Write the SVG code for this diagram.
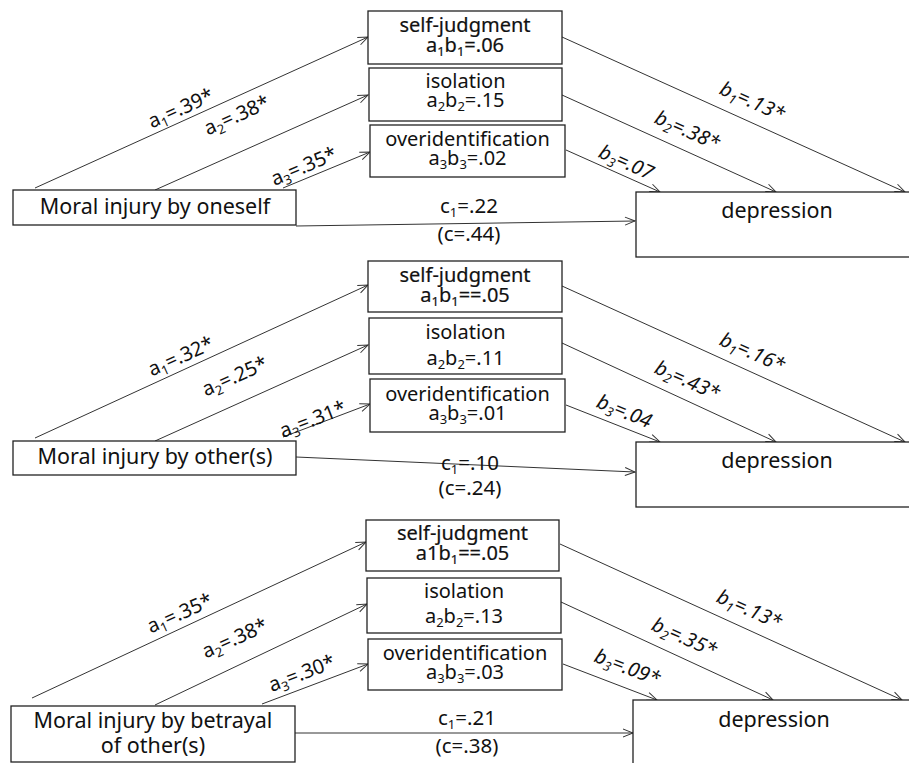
<svg xmlns="http://www.w3.org/2000/svg" width="909" height="763" viewBox="0 0 909 763">
<style>
  .box { fill: #fff; stroke: #222; stroke-width: 1.3; }
  .ln { fill: none; stroke: #333; stroke-width: 1; marker-end: url(#arr); }
  text { font-family: "Noto Sans", "Open Sans", sans-serif; font-size: 20px; fill: #111; }
  .mid { text-anchor: middle; }
  .big { font-size: 21.5px; }
  .lab { font-size: 20px; }
  .clab { font-size: 20.5px; }
  .it { font-style: italic; }
  .sub { font-size: 13px; }
  .bd { stroke: #111; stroke-width: 0.2; }
</style>
<defs>
  <marker id="arr" markerUnits="userSpaceOnUse" markerWidth="12" markerHeight="10" refX="11" refY="5" orient="auto">
    <path d="M1,1 L11,5 L1,9" fill="none" stroke="#333" stroke-width="1"/>
  </marker>
</defs>
<rect width="909" height="763" fill="#fff"/>

<g id="connectors">
  <!-- panel 1 -->
  <line class="ln" x1="35" y1="188" x2="368" y2="37"/>
  <line class="ln" x1="155" y1="190" x2="368" y2="95"/>
  <line class="ln" x1="283" y1="188" x2="370" y2="152"/>
  <line class="ln" x1="296" y1="226" x2="635" y2="221"/>
  <line class="ln" x1="562" y1="37" x2="905" y2="192"/>
  <line class="ln" x1="562" y1="95" x2="776" y2="192"/>
  <line class="ln" x1="566" y1="150" x2="660" y2="192"/>
  <!-- panel 2 -->
  <line class="ln" x1="35" y1="438" x2="368" y2="285"/>
  <line class="ln" x1="155" y1="441" x2="368" y2="345"/>
  <line class="ln" x1="283" y1="437" x2="370" y2="404"/>
  <line class="ln" x1="296" y1="457" x2="635" y2="472"/>
  <line class="ln" x1="562" y1="286" x2="905" y2="442"/>
  <line class="ln" x1="562" y1="343" x2="776" y2="442"/>
  <line class="ln" x1="566" y1="405" x2="660" y2="442"/>
  <!-- panel 3 -->
  <line class="ln" x1="32" y1="698" x2="366" y2="542"/>
  <line class="ln" x1="155" y1="705" x2="367" y2="604"/>
  <line class="ln" x1="262" y1="704" x2="368" y2="664"/>
  <line class="ln" x1="295" y1="733" x2="633" y2="733"/>
  <line class="ln" x1="560" y1="544" x2="902" y2="700"/>
  <line class="ln" x1="561" y1="602" x2="773" y2="700"/>
  <line class="ln" x1="563" y1="664" x2="657" y2="700"/>

  <!-- labels panel 1 -->
  <text class="mid lab" transform="translate(181,109) rotate(-24)" dy="6">a<tspan class="sub" dy="4">1</tspan><tspan dy="-4">=.39*</tspan></text>
  <text class="mid lab" transform="translate(237,116) rotate(-24)" dy="6">a<tspan class="sub" dy="4">2</tspan><tspan dy="-4">=.38*</tspan></text>
  <text class="mid lab" transform="translate(304,167) rotate(-23)" dy="6">a<tspan class="sub" dy="4">3</tspan><tspan dy="-4">=.35*</tspan></text>
  <text class="mid lab it" transform="translate(752,102) rotate(24)" dy="6">b<tspan class="sub" dy="4">1</tspan><tspan dy="-4">=.13*</tspan></text>
  <text class="mid lab it" transform="translate(687,131) rotate(24)" dy="6">b<tspan class="sub" dy="4">2</tspan><tspan dy="-4">=.38*</tspan></text>
  <text class="mid lab it" transform="translate(626,163) rotate(24)" dy="6">b<tspan class="sub" dy="4">3</tspan><tspan dy="-4">=.07</tspan></text>
  <text class="mid clab" x="469" y="213">c<tspan class="sub" dy="4">1</tspan><tspan dy="-4">=.22</tspan></text>
  <text class="mid clab" x="469" y="241">(c=.44)</text>

  <!-- labels panel 2 -->
  <text class="mid lab" transform="translate(181,357) rotate(-24)" dy="6">a<tspan class="sub" dy="4">1</tspan><tspan dy="-4">=.32*</tspan></text>
  <text class="mid lab" transform="translate(235,377) rotate(-24)" dy="6">a<tspan class="sub" dy="4">2</tspan><tspan dy="-4">=.25*</tspan></text>
  <text class="mid lab" transform="translate(313,420) rotate(-21)" dy="6">a<tspan class="sub" dy="4">3</tspan><tspan dy="-4">=.31*</tspan></text>
  <text class="mid lab it" transform="translate(752,353) rotate(24)" dy="6">b<tspan class="sub" dy="4">1</tspan><tspan dy="-4">=.16*</tspan></text>
  <text class="mid lab it" transform="translate(687,381) rotate(24)" dy="6">b<tspan class="sub" dy="4">2</tspan><tspan dy="-4">=.43*</tspan></text>
  <text class="mid lab it" transform="translate(624,412) rotate(22)" dy="6">b<tspan class="sub" dy="4">3</tspan><tspan dy="-4">=.04</tspan></text>
  <text class="mid clab" x="470" y="470">c<tspan class="sub" dy="4">1</tspan><tspan dy="-4">=.10</tspan></text>
  <text class="mid clab" x="470" y="495">(c=.24)</text>

  <!-- labels panel 3 -->
  <text class="mid lab" transform="translate(180,614) rotate(-24)" dy="6">a<tspan class="sub" dy="4">1</tspan><tspan dy="-4">=.35*</tspan></text>
  <text class="mid lab" transform="translate(235,639) rotate(-24)" dy="6">a<tspan class="sub" dy="4">2</tspan><tspan dy="-4">=.38*</tspan></text>
  <text class="mid lab" transform="translate(302,674) rotate(-21)" dy="6">a<tspan class="sub" dy="4">3</tspan><tspan dy="-4">=.30*</tspan></text>
  <text class="mid lab it" transform="translate(749,610) rotate(24)" dy="6">b<tspan class="sub" dy="4">1</tspan><tspan dy="-4">=.13*</tspan></text>
  <text class="mid lab it" transform="translate(684,638) rotate(24)" dy="6">b<tspan class="sub" dy="4">2</tspan><tspan dy="-4">=.35*</tspan></text>
  <text class="mid lab it" transform="translate(627,668) rotate(21)" dy="6">b<tspan class="sub" dy="4">3</tspan><tspan dy="-4">=.09*</tspan></text>
  <text class="mid clab" x="467" y="725">c<tspan class="sub" dy="4">1</tspan><tspan dy="-4">=.21</tspan></text>
  <text class="mid clab" x="467" y="753">(c=.38)</text>
</g>

<!-- panel 1 nodes -->
<g id="p1-self-judgment">
  <rect class="box" x="368" y="11" width="194" height="53"/>
  <text class="mid bd" x="465" y="32">self-judgment</text>
  <text class="mid bd" x="465" y="52">a<tspan class="sub" dy="4">1</tspan><tspan dy="-4">b</tspan><tspan class="sub" dy="4">1</tspan><tspan dy="-4">=.06</tspan></text>
</g>
<g id="p1-isolation">
  <rect class="box" x="369" y="68" width="193" height="53"/>
  <text class="mid" x="465.5" y="88">isolation</text>
  <text class="mid" x="465.5" y="107">a<tspan class="sub" dy="4">2</tspan><tspan dy="-4">b</tspan><tspan class="sub" dy="4">2</tspan><tspan dy="-4">=.15</tspan></text>
</g>
<g id="p1-overidentification">
  <rect class="box" x="370" y="125" width="195" height="52"/>
  <text class="mid" x="467.5" y="146">overidentification</text>
  <text class="mid" x="467.5" y="165">a<tspan class="sub" dy="4">3</tspan><tspan dy="-4">b</tspan><tspan class="sub" dy="4">3</tspan><tspan dy="-4">=.02</tspan></text>
</g>
<g id="p1-moral-injury">
  <rect class="box" x="13" y="190" width="283" height="35"/>
  <text class="mid big" x="155" y="214">Moral injury by oneself</text>
</g>
<g id="p1-depression">
  <rect class="box" x="636" y="192" width="282" height="65"/>
  <text class="mid big" x="777" y="218">depression</text>
</g>

<!-- panel 2 nodes -->
<g id="p2-self-judgment">
  <rect class="box" x="368" y="261" width="194" height="51"/>
  <text class="mid bd" x="465" y="282">self-judgment</text>
  <text class="mid bd" x="465" y="302">a<tspan class="sub" dy="4">1</tspan><tspan dy="-4">b</tspan><tspan class="sub" dy="4">1</tspan><tspan dy="-4">==.05</tspan></text>
</g>
<g id="p2-isolation">
  <rect class="box" x="369" y="318" width="193" height="56"/>
  <text class="mid" x="465.5" y="339">isolation</text>
  <text class="mid" x="465.5" y="365">a<tspan class="sub" dy="4">2</tspan><tspan dy="-4">b</tspan><tspan class="sub" dy="4">2</tspan><tspan dy="-4">=.11</tspan></text>
</g>
<g id="p2-overidentification">
  <rect class="box" x="370" y="379" width="195" height="53"/>
  <text class="mid" x="467.5" y="401">overidentification</text>
  <text class="mid" x="467.5" y="420">a<tspan class="sub" dy="4">3</tspan><tspan dy="-4">b</tspan><tspan class="sub" dy="4">3</tspan><tspan dy="-4">=.01</tspan></text>
</g>
<g id="p2-moral-injury">
  <rect class="box" x="13" y="441" width="283" height="34"/>
  <text class="mid big" x="155" y="464">Moral injury by other(s)</text>
</g>
<g id="p2-depression">
  <rect class="box" x="636" y="442" width="282" height="65"/>
  <text class="mid big" x="777" y="468">depression</text>
</g>

<!-- panel 3 nodes -->
<g id="p3-self-judgment">
  <rect class="box" x="366" y="520" width="193" height="51"/>
  <text class="mid bd" x="462.5" y="540">self-judgment</text>
  <text class="mid bd" x="462.5" y="560">a1b<tspan class="sub" dy="4">1</tspan><tspan dy="-4">==.05</tspan></text>
</g>
<g id="p3-isolation">
  <rect class="box" x="367" y="578" width="194" height="55"/>
  <text class="mid" x="464" y="598">isolation</text>
  <text class="mid" x="464" y="623">a<tspan class="sub" dy="4">2</tspan><tspan dy="-4">b</tspan><tspan class="sub" dy="4">2</tspan><tspan dy="-4">=.13</tspan></text>
</g>
<g id="p3-overidentification">
  <rect class="box" x="368" y="639" width="194" height="51"/>
  <text class="mid" x="465" y="660">overidentification</text>
  <text class="mid" x="465" y="679">a<tspan class="sub" dy="4">3</tspan><tspan dy="-4">b</tspan><tspan class="sub" dy="4">3</tspan><tspan dy="-4">=.03</tspan></text>
</g>
<g id="p3-moral-injury">
  <rect class="box" x="11" y="706" width="284" height="56"/>
  <text class="mid big" x="153" y="728">Moral injury by betrayal</text>
  <text class="mid big" x="153" y="753">of other(s)</text>
</g>
<g id="p3-depression">
  <rect class="box" x="633" y="700" width="285" height="70"/>
  <text class="mid big" x="774" y="727">depression</text>
</g>
</svg>
